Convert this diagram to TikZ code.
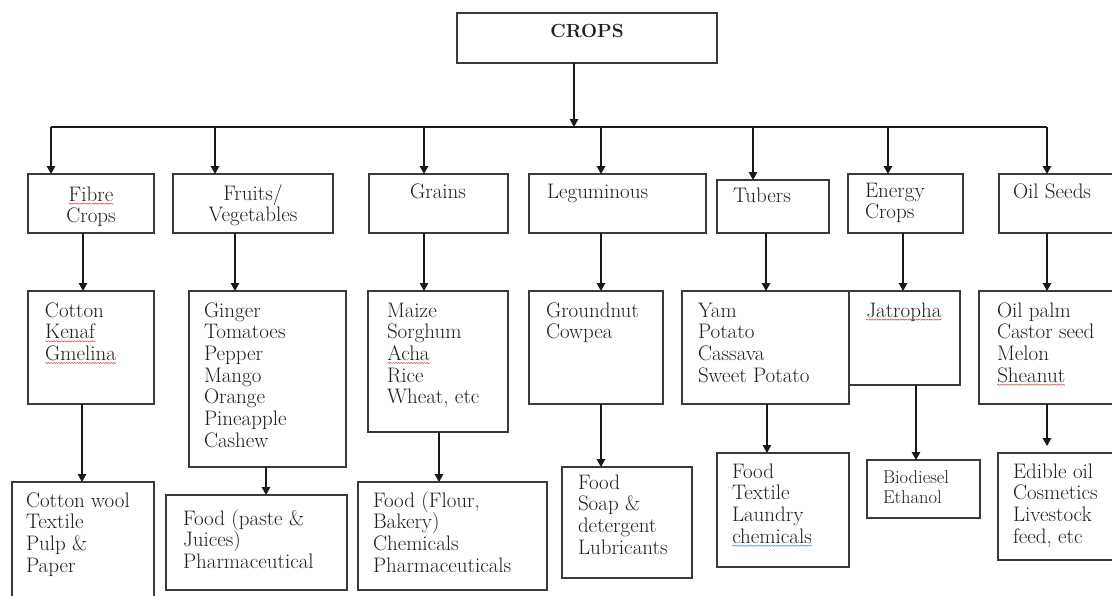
\documentclass[tikz,border=0pt]{standalone}
\usepackage{fontspec}
\usetikzlibrary{arrows.meta,decorations.pathmorphing,calc}
\definecolor{boxline}{HTML}{3A3A3A}
\definecolor{ink}{HTML}{1E1E1E}
\definecolor{spellred}{HTML}{D05050}
\definecolor{spellblue}{HTML}{5A8AB0}
\tikzset{
  box/.style={draw=boxline, line width=1.3pt, anchor=north west, inner sep=0pt, outer sep=0pt},
  txt/.style={anchor=north west, inner sep=0pt, outer sep=0pt, align=left,
              font=\fontsize{21}{21.7}\selectfont, text=ink},
  ctxt/.style={txt, align=center, anchor=north},
  btxt/.style={txt, anchor=base west},
  arr/.style={draw=black!90, line width=1.3pt, -{Triangle[length=8pt,width=8.5pt]}},
}
\newcommand\fl{\rule{0pt}{17pt}}
\newcommand\wavy[2][spellred]{\tikz[baseline=(w.base)]{\node[inner sep=0pt,outer sep=0pt,anchor=base,draw=none](w){#2};\draw[#1,line width=0.5pt,decorate,decoration={snake,amplitude=0.6pt,segment length=2.6pt}]([yshift=-2.6pt]w.base west)--([yshift=-2.6pt]w.base east);}}
\newcommand\bx[5]{\node[box,minimum width=#4pt-#2pt,minimum height=#5pt-#3pt] (#1) at (#2,#3) {};}
\begin{document}
\begin{tikzpicture}[x=1pt,y=-1pt]
\useasboundingbox (0,0) rectangle (1112,595);
\clip (0,0) rectangle (1112,595);
\fill[white] (0,0) rectangle (1112,595);
% boxes
\bx{crops}{457}{13}{717}{63}
\bx{fib}{28}{174}{154}{233}
\bx{fru}{173}{174}{333}{233}
\bx{gra}{369}{174}{508}{233}
\bx{leg}{529}{174}{706}{233}
\bx{tub}{717}{180}{829}{233}
\bx{ene}{848}{174}{963}{233}
\bx{oil}{999}{174}{1125}{233}
\bx{cot}{28}{291}{154}{404}
\bx{gin}{189}{291}{346}{467}
\bx{mai}{368}{291}{508}{432}
\bx{gro}{529}{291}{663}{404}
\bx{yam}{682}{291}{849}{404}
\bx{jat}{849}{291}{960}{385}
\bx{oip}{979}{291}{1125}{404}
\bx{wool}{12}{482}{154}{605}
\bx{paste}{166}{495}{347}{590}
\bx{flour}{358}{482}{547}{590}
\bx{soap}{562}{467}{692}{578}
\bx{tex}{717}{453}{849}{567}
\bx{bio}{867}{460}{980}{518}
\bx{edi}{998}{453}{1125}{560}
% texts
\node[anchor=base, inner sep=0pt, font=\fontsize{19}{22}\selectfont\bfseries, text=ink] (tcrops) at (587,37) {CROPS};
\node[ctxt] (tfib) at (91,184) {\fl\wavy{Fibre}\\Crops};
\node[ctxt] (tfru) at (253,183) {\fl Fruits/\\Vegetables};
\node[txt,anchor=base] (tgra) at (438,198) {Grains};
\node[btxt] (tleg) at (547,198) {Leguminous};
\node[btxt] (ttub) at (733,202) {Tubers};
\node[txt] (tene) at (865,180) {\fl Energy\\Crops};
\node[btxt] (toil) at (1013,198) {Oil Seeds};
\node[txt] (tcot) at (45,300) {\fl Cotton\\\wavy{Kenaf}\\\wavy{Gmelina}};
\node[txt] (tgin) at (204,300) {\fl Ginger\\Tomatoes\\Pepper\\Mango\\Orange\\Pineapple\\Cashew};
\node[txt] (tmai) at (387,300) {\fl Maize\\Sorghum\\\wavy{Acha}\\Rice\\Wheat, etc};
\node[txt] (tgro) at (546,300) {\fl Groundnut\\Cowpea};
\node[txt] (tyam) at (698,300) {\fl Yam\\Potato\\Cassava\\Sweet Potato};
\node[txt] (tjat) at (866,300) {\fl\wavy{Jatropha}};
\node[txt] (toip) at (997,300) {\fl Oil palm\\Castor seed\\Melon\\\wavy{Sheanut}};
\node[txt] (twool) at (26,490) {\fl Cotton wool\\Textile\\Pulp \&\\Paper};
\node[txt] (tpaste) at (183,508) {\fl Food (paste \&\\Juices)\\Pharmaceutical};
\node[txt] (tflour) at (373,490) {\fl Food (Flour,\\Bakery)\\Chemicals\\Pharmaceuticals};
\node[txt] (tsoap) at (578,472) {\fl Food\\Soap \&\\detergent\\Lubricants};
\node[txt] (ttex) at (732,461) {\fl Food\\Textile\\Laundry\\\wavy[spellblue]{chemicals}};
\node[txt, font=\fontsize{18.5}{20}\selectfont] (tbio) at (883,469) {\rule{0pt}{14pt}Biodiesel\\Ethanol};
\node[txt] (tedi) at (1013,461) {\fl Edible oil\\Cosmetics\\Livestock\\feed, etc};
% bus
\coordinate (bc) at (574,127);
\coordinate (b1) at (51,127);
\coordinate (b2) at (215,127);
\coordinate (b3) at (424,127);
\coordinate (b4) at (601,127);
\coordinate (b5) at (753,127);
\coordinate (b6) at (888,127);
\coordinate (b7) at (1047,127);
\draw[draw=black!90, line width=1.3pt] (b1) -- (b7);
\draw[arr] (crops.south -| bc) -- (bc);
\draw[arr] (b1) -- (fib.north -| b1);
\draw[arr] (b2) -- (fru.north -| b2);
\draw[arr] (b3) -- (gra.north -| b3);
\draw[arr] (b4) -- (leg.north -| b4);
\draw[arr] (b5) -- (tub.north -| b5);
\draw[arr] (b6) -- (ene.north -| b6);
\draw[arr] (b7) -- (oil.north -| b7);
% category -> examples
\draw[arr] (fib.south -| 83,0) -- (cot.north -| 83,0);
\draw[arr] (fru.south -| 235,0) -- (gin.north -| 235,0);
\draw[arr] (gra.south -| 424,0) -- (mai.north -| 424,0);
\draw[arr] (leg.south -| 601,0) -- (gro.north -| 601,0);
\draw[arr] (tub.south -| 766,0) -- (yam.north -| 766,0);
\draw[arr] (ene.south -| 903,0) -- (jat.north -| 903,0);
\draw[arr] (oil.south -| 1047,0) -- (oip.north -| 1047,0);
% examples -> uses
\draw[arr] (cot.south -| 82,0) -- (wool.north -| 82,0);
\draw[arr] (gin.south -| 266,0) -- (paste.north -| 266,0);
\draw[arr] (mai.south -| 439,0) -- (flour.north -| 439,0);
\draw[arr] (gro.south -| 601,0) -- (soap.north -| 601,0);
\draw[arr] (yam.south -| 767,0) -- (tex.north -| 767,0);
\draw[arr] (jat.south -| 916,0) -- (bio.north -| 916,0);
\draw[arr, shorten >=7pt] (oip.south -| 1047,0) -- (edi.north -| 1047,0);
\end{tikzpicture}
\end{document}
